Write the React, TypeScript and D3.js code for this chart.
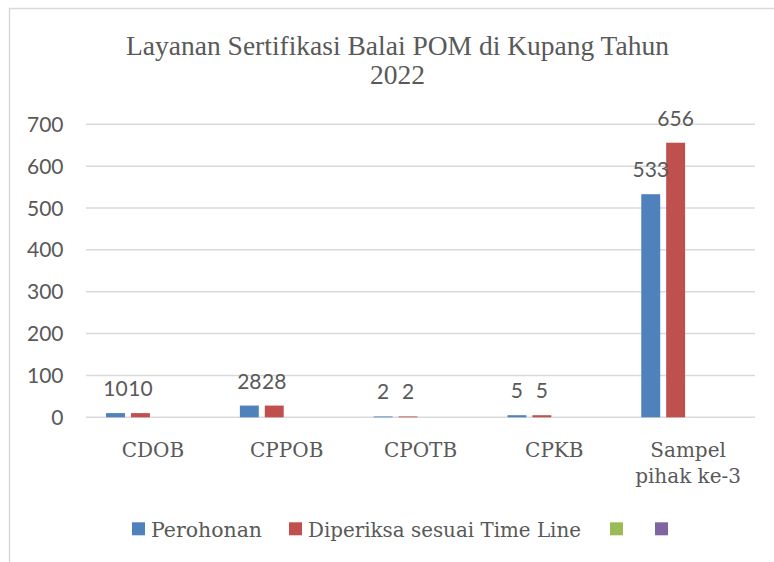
import React from 'react'
import * as d3 from 'd3'

const categories = ['CDOB', 'CPPOB', 'CPOTB', 'CPKB', 'Sampel pihak ke-3']
const categoryLines = [['CDOB'], ['CPPOB'], ['CPOTB'], ['CPKB'], ['Sampel', 'pihak ke-3']]
const seriesNames = ['Perohonan', 'Diperiksa sesuai Time Line', '', '']
const seriesColors = ['#4f81bd', '#c0504d', '#9bbb59', '#8064a2']
const perohonan = [10, 28, 2, 5, 533]
const diperiksa = [10, 28, 2, 5, 656]
const yTicks = [0, 100, 200, 300, 400, 500, 600, 700]
const titleLines = ['Layanan Sertifikasi Balai POM di Kupang Tahun', '2022']

const W = 774
const H = 562
const textColor = '#595959'
const serif = '"DejaVu Serif", serif'
const titleFont = '"Liberation Serif", serif'
const sans = 'Lato, "Open Sans", sans-serif'

export default function App() {
  const series = [perohonan, diperiksa, [], []]

  const x = d3.scaleBand<string>()
    .domain(categories)
    .range([86, 755])
    .paddingInner(0.3)
    .paddingOuter(0.15)

  const xs = d3.scaleBand<number>()
    .domain([0, 1, 2, 3])
    .range([0, x.bandwidth()])
    .paddingInner(0.24)

  const y = d3.scaleLinear().domain([0, 700]).range([417.3, 124.3])

  // legend: square x and text width per entry
  const legendX = [132, 289, 610, 655]
  const legendW = [111, 273, 0, 0]

  return (
    <div style={{ position: 'absolute', left: 0, top: 0 }}>
      <svg width={W} height={H} style={{ display: 'block', background: '#fff' }}>
        <rect x={9.5} y={8.5} width={W + 20} height={H + 20} fill="#fff" stroke="#d9d9d9" strokeWidth={1.5} />

        {/* title */}
        {titleLines.map((t, i) => (
          <text key={`tt-${i}`} x={397.5} y={55 + i * 29} textAnchor="middle" fontFamily={titleFont} fontSize={27.5} fill={textColor}>{t}</text>
        ))}

        {/* grid + y labels */}
        {yTicks.map(t => (
          <g key={`t-${t}`}>
            <line x1={86} x2={755} y1={y(t)} y2={y(t)} stroke="#d9d9d9" strokeWidth={1.5} />
            <text x={63.5} y={y(t)} dy="0.36em" textAnchor="end" fontFamily={sans} fontSize={21} fill={textColor}>{t}</text>
          </g>
        ))}

        {/* bars */}
        {series.map((vals, si) => vals.map((v, ci) => {
          const bx = (x(categories[ci]) || 0) + (xs(si) || 0)
          return (
            <rect key={`b-${si}-${ci}`} x={bx} y={y(v)} width={xs.bandwidth()} height={y(0) - y(v)}
              fill={seriesColors[si]} />
          )
        }))}

        {/* data labels */}
        {series.map((vals, si) => vals.map((v, ci) => {
          const cx = (x(categories[ci]) || 0) + (xs(si) || 0) + xs.bandwidth() / 2
          return (
            <text key={`l-${si}-${ci}`} x={cx} y={y(v) - 17} textAnchor="middle" fontFamily={sans} fontSize={21} fill={textColor}>{v}</text>
          )
        }))}

        {/* x labels */}
        {categoryLines.map((lines, ci) => (
          <text key={`x-${ci}`} textAnchor="middle" fontFamily={serif} fontSize={20} fill={textColor}>
            {lines.map((ln, li) => (
              <tspan key={li} x={(x(categories[ci]) || 0) + x.bandwidth() / 2} y={456.7 + li * 26.5}>{ln}</tspan>
            ))}
          </text>
        ))}

        {/* legend */}
        {seriesNames.map((nm, i) => (
          <g key={`lg-${i}`}>
            <rect x={legendX[i]} y={522.3} width={13} height={13} fill={seriesColors[i]} />
            {nm && <text x={legendX[i] + 19} y={537.3} fontFamily={serif} fontSize={21} fill={textColor}
              textLength={legendW[i]} lengthAdjust="spacingAndGlyphs">{nm}</text>}
          </g>
        ))}
      </svg>
    </div>
  )
}
